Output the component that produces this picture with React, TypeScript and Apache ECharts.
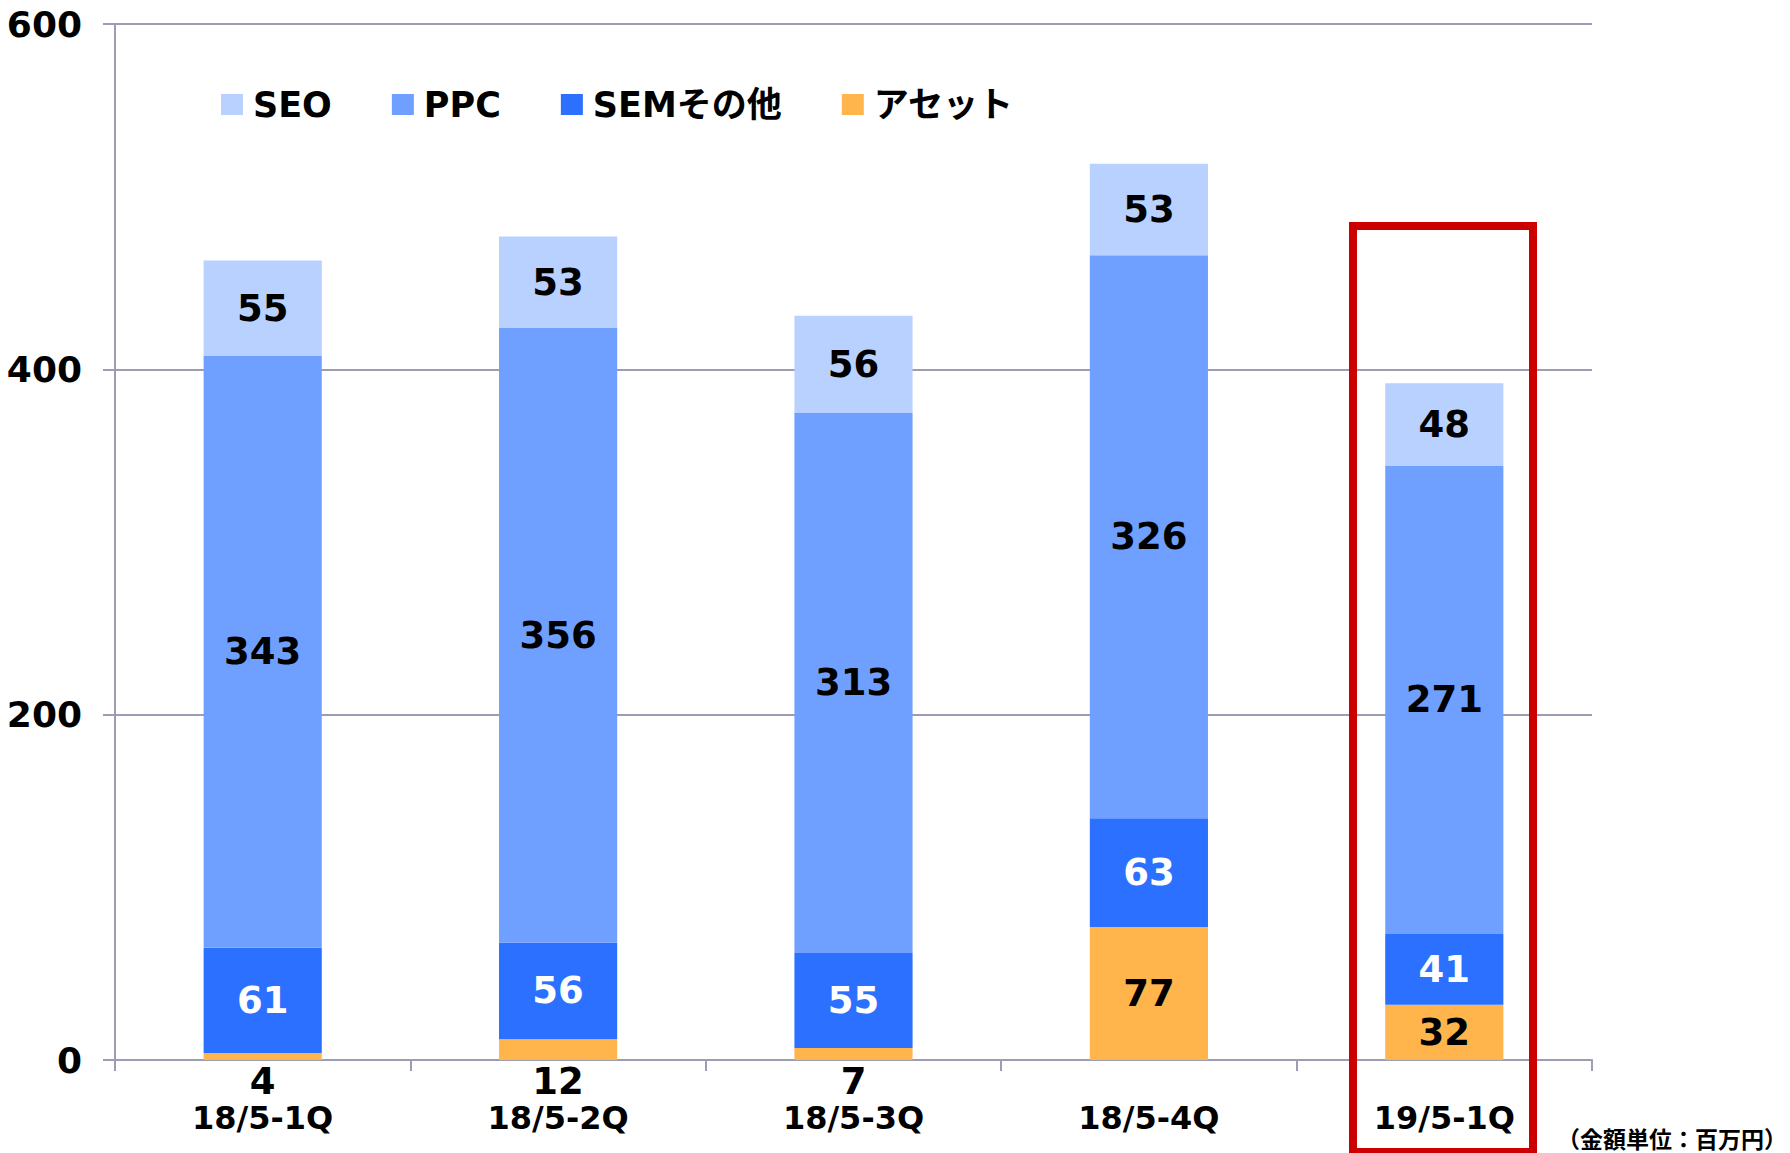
import React, { useEffect, useRef } from "react";
import * as echarts from "echarts";

const categories = ["18/5-1Q", "18/5-2Q", "18/5-3Q", "18/5-4Q", "19/5-1Q"];
const seoValues = [55, 53, 56, 53, 48];
const ppcValues = [343, 356, 313, 326, 271];
const semOtherValues = [61, 56, 55, 63, 41];
const assetValues = [4, 12, 7, 77, 32];
const seriesNames = ["SEO", "PPC", "SEMその他", "アセット"];
const yTicks = { min: 0, max: 600, interval: 200 };
const unitNote = "（金額単位：百万円）";

const FONT = "'DejaVu Sans', 'Noto Sans CJK JP', sans-serif";
const GRID_COLOR = "#9C9CB2";
const COLORS = {
  seo: "#B9D1FE",
  ppc: "#70A0FF",
  sem: "#2B70FF",
  asset: "#FFB54B",
};

export default function App() {
  const ref = useRef<HTMLDivElement>(null);

  useEffect(() => {
    document.body.style.margin = "0";
    if (!ref.current) return;
    const chart = echarts.init(ref.current, null, { renderer: "svg" });

    const labelBase = {
      show: true,
      position: "inside",
      fontFamily: FONT,
      fontWeight: "bold",
      fontSize: 37,
      color: "#000",
    };

    const assetData = assetValues.map((v) =>
      v < 20
        ? { value: v, label: { position: "bottom", distance: 3 } }
        : { value: v }
    );

    chart.setOption({
      animation: false,
      backgroundColor: "#fff",
      grid: { left: 115, top: 24, right: 198, bottom: 93, containLabel: false },
      legend: {
        data: seriesNames,
        left: 216,
        top: 82,
        itemWidth: 22,
        itemHeight: 21,
        itemGap: 60,
        icon: "rect",
        textStyle: {
          fontFamily: FONT,
          fontWeight: "bold",
          fontSize: 35,
          color: "#000",
          padding: [0, 0, 0, 5],
        },
      },
      xAxis: {
        type: "category",
        data: categories,
        boundaryGap: true,
        axisLine: { show: true, lineStyle: { color: GRID_COLOR, width: 2 } },
        axisTick: { show: true, alignWithLabel: false, length: 11, lineStyle: { color: GRID_COLOR, width: 2 } },
        axisLabel: {
          margin: 42,
          fontFamily: FONT,
          fontWeight: "bold",
          fontSize: 32,
          color: "#000",
        },
      },
      yAxis: {
        type: "value",
        min: yTicks.min,
        max: yTicks.max,
        interval: yTicks.interval,
        axisLine: { show: true, lineStyle: { color: GRID_COLOR, width: 2 } },
        axisTick: { show: true, length: 12, lineStyle: { color: GRID_COLOR, width: 2 } },
        splitLine: { show: true, lineStyle: { color: GRID_COLOR, width: 2 } },
        axisLabel: {
          margin: 33,
          fontFamily: FONT,
          fontWeight: "bold",
          fontSize: 36,
          color: "#000",
        },
      },
      series: [
        {
          name: "アセット",
          type: "bar",
          stack: "total",
          barWidth: "40%",
          data: assetData,
          itemStyle: { color: COLORS.asset },
          label: { ...labelBase },
        },
        {
          name: "SEMその他",
          type: "bar",
          stack: "total",
          barWidth: "40%",
          data: semOtherValues,
          itemStyle: { color: COLORS.sem },
          label: { ...labelBase, color: "#fff" },
        },
        {
          name: "PPC",
          type: "bar",
          stack: "total",
          barWidth: "40%",
          data: ppcValues,
          itemStyle: { color: COLORS.ppc },
          label: { ...labelBase },
        },
        {
          name: "SEO",
          type: "bar",
          stack: "total",
          barWidth: "40%",
          data: seoValues,
          itemStyle: { color: COLORS.seo },
          label: { ...labelBase },
        },
      ],
      graphic: [
        {
          type: "rect",
          z: 100,
          shape: { x: 1353, y: 226, width: 180, height: 926 },
          style: { fill: "none", stroke: "#CC0000", lineWidth: 8 },
        },
        {
          type: "text",
          z: 100,
          right: 3,
          top: 1126,
          style: {
            text: unitNote,
            fontFamily: "'Noto Sans CJK JP', sans-serif",
            fontWeight: "bold",
            fontSize: 23,
            fill: "#000",
          },
        },
      ],
    });

    return () => chart.dispose();
  }, []);

  return <div ref={ref} style={{ width: 1790, height: 1153 }} />;
}
